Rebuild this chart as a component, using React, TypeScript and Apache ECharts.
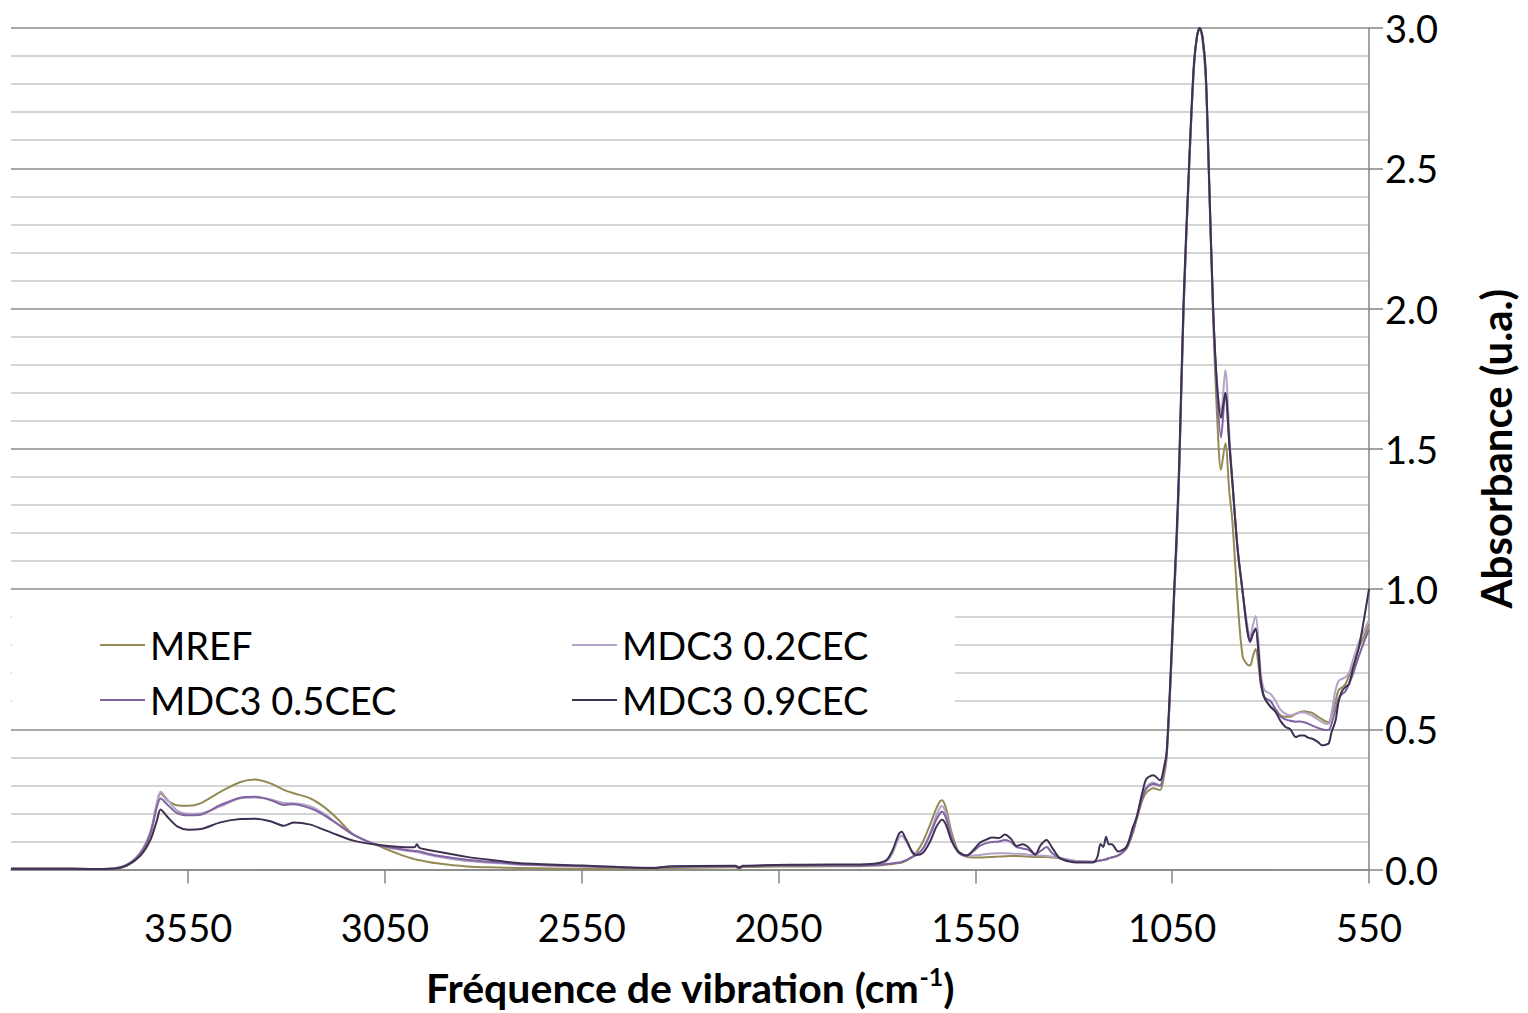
import React, { useEffect, useRef } from "react";
import * as echarts from "echarts";

const seriesNames = ["MREF", "MDC3 0.2CEC", "MDC3 0.5CEC", "MDC3 0.9CEC"];
const seriesColors = ["#948A54", "#B3A2C7", "#8064A2", "#3F3151"];
const xTickValues = [3550, 3050, 2550, 2050, 1550, 1050, 550];

const wavenumbers = [
  4000, 3900, 3800, 3740, 3705, 3671, 3646, 3629, 3620, 3603, 3578, 3549, 3519, 3468, 3417, 3379,
  3341, 3307, 3282, 3239, 3206, 3172, 3130, 3074, 3011, 2975, 2969, 2962, 2918, 2842, 2757, 2706,
  2545, 2368, 2330, 2160, 2150, 2140, 1988, 1843, 1800, 1775, 1760, 1745, 1737, 1728, 1721, 1710,
  1700, 1683, 1665, 1650, 1640, 1635, 1625, 1610, 1595, 1580, 1572, 1555, 1538, 1520, 1508, 1490,
  1475, 1460, 1445, 1430, 1416, 1398, 1385, 1369, 1356, 1335, 1310, 1293, 1251, 1240, 1232, 1225,
  1218, 1211, 1204, 1187, 1166, 1150, 1140, 1125, 1115, 1098, 1081, 1070, 1064, 1054, 1045, 1039,
  1032, 1021, 1007, 995, 987, 980, 973, 965, 957, 946, 936, 926, 915, 905, 897, 884,
  871, 859, 852, 845, 838, 830, 825, 816, 800, 787, 775, 762, 750, 736, 725, 715,
  705, 694, 680, 669, 660, 652, 645, 635, 627, 618, 610, 601, 590, 576, 563, 550,
];

const mref = [
  0.003, 0.003, 0.002, 0.003, 0.015, 0.055, 0.125, 0.235, 0.272, 0.247, 0.229, 0.227, 0.236, 0.277, 0.312, 0.321,
  0.307, 0.284, 0.272, 0.253, 0.224, 0.183, 0.124, 0.089, 0.053, 0.037, 0.035, 0.033, 0.022, 0.011, 0.007, 0.005,
  0.003, 0.003, 0.005, 0.008, 0.005, 0.009, 0.011, 0.012, 0.014, 0.018, 0.02, 0.023, 0.025, 0.03, 0.035, 0.045,
  0.06, 0.1, 0.16, 0.215, 0.243, 0.247, 0.22, 0.13, 0.07, 0.05, 0.045, 0.043, 0.043, 0.044, 0.045, 0.046,
  0.047, 0.048, 0.048, 0.047, 0.046, 0.045, 0.045, 0.045, 0.043, 0.04, 0.033, 0.03, 0.028, 0.03, 0.032, 0.034,
  0.036, 0.04, 0.043, 0.05, 0.075, 0.13, 0.18, 0.25, 0.275, 0.29, 0.283, 0.34, 0.4, 0.67, 0.97, 1.15,
  1.43, 2.0, 2.5, 2.85, 2.97, 3.0, 2.96, 2.82, 2.48, 1.97, 1.62, 1.425, 1.52, 1.35, 1.24, 0.96,
  0.76, 0.73, 0.727, 0.76, 0.786, 0.72, 0.66, 0.614, 0.58, 0.57, 0.55, 0.545, 0.545, 0.555, 0.562, 0.564,
  0.562, 0.558, 0.545, 0.535, 0.528, 0.525, 0.55, 0.6, 0.64, 0.65, 0.66, 0.69, 0.73, 0.79, 0.83, 0.875,
];

const cec02 = [
  0.003, 0.003, 0.002, 0.004, 0.018, 0.062, 0.135, 0.24, 0.277, 0.25, 0.21, 0.199, 0.2, 0.225, 0.254, 0.257,
  0.25, 0.237, 0.236, 0.225, 0.2, 0.165, 0.124, 0.09, 0.07, 0.063, 0.062, 0.06, 0.046, 0.03, 0.022, 0.017,
  0.011, 0.005, 0.01, 0.012, 0.008, 0.012, 0.015, 0.015, 0.017, 0.03, 0.06, 0.11, 0.12, 0.105, 0.088, 0.065,
  0.058, 0.075, 0.13, 0.19, 0.22, 0.226, 0.2, 0.115, 0.065, 0.05, 0.048, 0.05, 0.052, 0.055, 0.057, 0.058,
  0.058, 0.057, 0.056, 0.055, 0.053, 0.05, 0.05, 0.048, 0.046, 0.042, 0.034, 0.03, 0.028, 0.03, 0.032, 0.034,
  0.036, 0.04, 0.043, 0.05, 0.078, 0.14, 0.19, 0.265, 0.295, 0.31, 0.3, 0.36, 0.41, 0.68, 0.98, 1.16,
  1.43, 2.0, 2.5, 2.86, 2.97, 3.0, 2.97, 2.85, 2.5, 2.0, 1.72, 1.63, 1.78, 1.56, 1.38, 1.146,
  0.99, 0.87, 0.83, 0.87, 0.904, 0.8, 0.7, 0.64, 0.626, 0.6, 0.57, 0.555, 0.55, 0.555, 0.56, 0.56,
  0.555, 0.548, 0.535, 0.525, 0.52, 0.52, 0.56, 0.64, 0.673, 0.68, 0.685, 0.7, 0.75, 0.81, 0.85, 0.89,
];

const cec05 = [
  0.003, 0.003, 0.002, 0.004, 0.017, 0.058, 0.129, 0.225, 0.253, 0.232, 0.201, 0.193, 0.195, 0.23, 0.256, 0.259,
  0.248, 0.23, 0.233, 0.218, 0.195, 0.163, 0.124, 0.089, 0.073, 0.066, 0.066, 0.064, 0.05, 0.035, 0.025, 0.019,
  0.012, 0.006, 0.01, 0.012, 0.008, 0.012, 0.015, 0.014, 0.016, 0.02, 0.022, 0.025, 0.027, 0.032, 0.037, 0.045,
  0.052, 0.075, 0.125, 0.175, 0.2, 0.207, 0.185, 0.11, 0.065, 0.05, 0.05, 0.065, 0.085, 0.095, 0.098, 0.1,
  0.105, 0.098, 0.08, 0.075, 0.07, 0.055, 0.065, 0.08, 0.06, 0.04, 0.03, 0.028, 0.027, 0.03, 0.032, 0.034,
  0.036, 0.04, 0.043, 0.05, 0.076, 0.135, 0.185, 0.26, 0.29, 0.305, 0.298, 0.36, 0.41, 0.68, 0.98, 1.16,
  1.43, 2.0, 2.5, 2.86, 2.97, 3.0, 2.96, 2.84, 2.5, 2.0, 1.7, 1.54, 1.7, 1.52, 1.38, 1.146,
  0.99, 0.85, 0.81, 0.84, 0.86, 0.76, 0.673, 0.614, 0.6, 0.57, 0.545, 0.535, 0.53, 0.527, 0.528, 0.525,
  0.52, 0.513, 0.505, 0.5, 0.497, 0.498, 0.52, 0.57, 0.61, 0.626, 0.635, 0.66, 0.7, 0.76, 0.81, 0.855,
];

const cec09 = [
  0.003, 0.003, 0.002, 0.003, 0.015, 0.05, 0.105, 0.176, 0.214, 0.188, 0.154, 0.142, 0.144, 0.168, 0.18, 0.181,
  0.172, 0.156, 0.168, 0.16, 0.142, 0.124, 0.103, 0.089, 0.08, 0.079, 0.09, 0.077, 0.064, 0.045, 0.03, 0.022,
  0.014, 0.005, 0.011, 0.013, 0.006, 0.013, 0.017, 0.018, 0.022, 0.035, 0.07, 0.125, 0.135, 0.112, 0.093, 0.06,
  0.052, 0.06, 0.1, 0.15, 0.172, 0.177, 0.16, 0.1, 0.065, 0.052, 0.05, 0.07, 0.096, 0.108, 0.114, 0.112,
  0.125, 0.11, 0.084, 0.09, 0.08, 0.053, 0.085, 0.105, 0.08, 0.04, 0.028, 0.025, 0.025, 0.045, 0.091, 0.08,
  0.117, 0.09, 0.09, 0.064, 0.082, 0.15, 0.188, 0.28, 0.324, 0.336, 0.318, 0.37, 0.42, 0.7, 1.0, 1.19,
  1.46, 2.03, 2.52, 2.87, 2.97, 3.0, 2.97, 2.85, 2.5, 2.0, 1.73, 1.61, 1.7, 1.52, 1.38, 1.146,
  0.99, 0.85, 0.815, 0.84, 0.857, 0.76, 0.673, 0.614, 0.58, 0.561, 0.53, 0.508, 0.5, 0.472, 0.478, 0.478,
  0.47, 0.466, 0.455, 0.443, 0.445, 0.45, 0.49, 0.531, 0.6, 0.638, 0.65, 0.661, 0.72, 0.79, 0.89, 1.0,
];

const seriesValues = [mref, cec02, cec05, cec09];

const FONT = 'Lato, "Open Sans", "DejaVu Sans", sans-serif';
const AXIS_GRAY = "#868686";

export default function App() {
  const ref = useRef<HTMLDivElement>(null);

  useEffect(() => {
    if (!ref.current) return;
    const chart = echarts.init(ref.current, undefined, { renderer: "svg" });

    const series = seriesNames.map((name, si) => ({
      name,
      type: "line",
      data: wavenumbers.map((w, i) => [w, seriesValues[si][i]]),
      showSymbol: false,
      symbol: "none",
      smooth: 0.3,
      color: seriesColors[si],
      lineStyle: { color: seriesColors[si], width: 2 },
      z: 2 + si,
    }));

    const legendCommon = {
      orient: "vertical",
      top: 625,
      padding: 0,
      itemWidth: 45,
      itemHeight: 2,
      itemGap: 15,
      icon: "rect",
      selectedMode: false,
      textStyle: { fontSize: 38, lineHeight: 40, color: "#000", fontFamily: FONT },
    };

    chart.setOption({
      animation: false,
      backgroundColor: "#fff",
      textStyle: { fontFamily: FONT },
      grid: { left: 11, right: 159, top: 28, bottom: 140, containLabel: false },
      graphic: [
        {
          type: "rect",
          left: 12,
          top: 607,
          z: 1,
          shape: { width: 943, height: 118 },
          style: { fill: "#ffffff" },
        },
      ],
      legend: [
        { ...legendCommon, left: 100, data: [seriesNames[0], seriesNames[2]] },
        { ...legendCommon, left: 572, data: [seriesNames[1], seriesNames[3]] },
      ],
      xAxis: {
        type: "value",
        min: 550,
        max: 4000,
        inverse: true,
        name: "{a|Fréquence de vibration (cm}{s|-1}{a|)}",
        nameLocation: "middle",
        nameGap: 94,
        nameTextStyle: {
          rich: {
            a: { fontSize: 41, fontWeight: "bold", color: "#000", fontFamily: FONT, lineHeight: 48 },
            s: { fontSize: 25, fontWeight: "bold", color: "#000", fontFamily: FONT, lineHeight: 48, verticalAlign: "top", padding: [0, 0, 18, 0] },
          },
        },
        axisLine: { show: true, onZero: false, lineStyle: { color: AXIS_GRAY, width: 1.5 } },
        axisTick: { show: true, customValues: xTickValues, length: 14, lineStyle: { color: AXIS_GRAY, width: 1.5 } },
        axisLabel: {
          customValues: xTickValues,
          fontSize: 38,
          color: "#000",
          fontFamily: FONT,
          margin: 38,
          formatter: (v: number) => String(v),
        },
        splitLine: { show: false },
      },
      yAxis: {
        type: "value",
        position: "right",
        min: 0,
        max: 3,
        interval: 0.5,
        name: "Absorbance (u.a.)",
        nameLocation: "middle",
        nameRotate: 90,
        nameGap: 106,
        nameTextStyle: { fontSize: 42, fontWeight: "bold", color: "#000", fontFamily: FONT },
        axisLine: { show: true, lineStyle: { color: AXIS_GRAY, width: 1.5 } },
        axisTick: { show: true, length: 14, lineStyle: { color: AXIS_GRAY, width: 1.5 } },
        axisLabel: {
          fontSize: 38,
          color: "#000",
          fontFamily: FONT,
          margin: 16,
          formatter: (v: number) => v.toFixed(1),
        },
        splitLine: { show: true, lineStyle: { color: "#8c8c8c", width: 1.5 } },
        minorTick: { show: false, splitNumber: 5 },
        minorSplitLine: { show: true, lineStyle: { color: "#d4d4d4", width: 2 } },
      },
      series,
    });

    return () => chart.dispose();
  }, []);

  return (
    <div
      ref={ref}
      style={{ position: "fixed", left: 0, top: 0, width: 1528, height: 1013, background: "#fff" }}
    />
  );
}
